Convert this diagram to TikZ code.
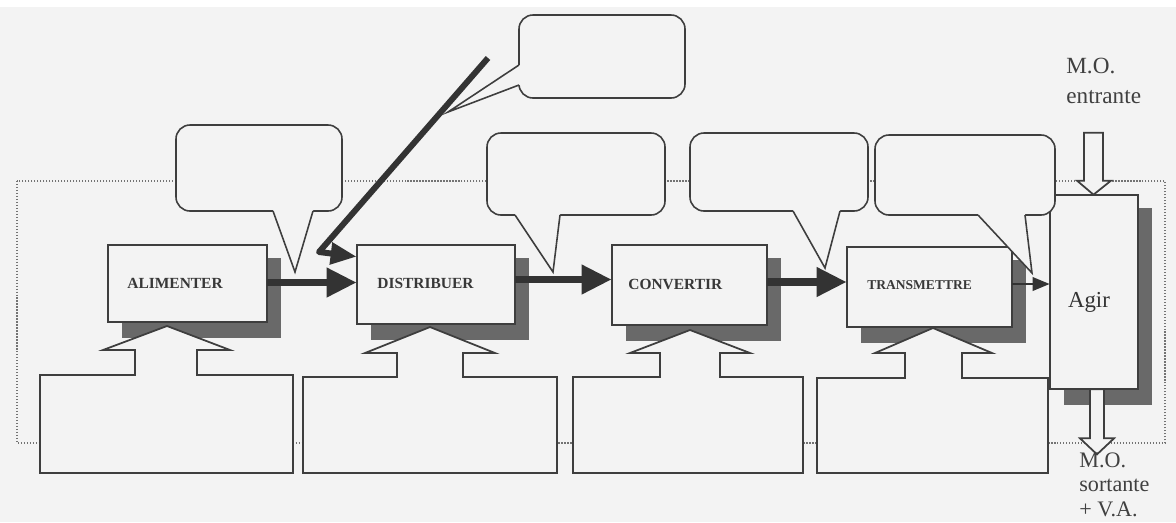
\documentclass[tikz,border=0pt]{standalone}
\usepackage{fontspec}
\setmainfont{Liberation Serif}
\usetikzlibrary{arrows.meta,calc,fit}
\definecolor{bg}{RGB}{243,243,243}
\definecolor{ink}{RGB}{62,62,62}
\definecolor{shade}{RGB}{105,105,105}
\begin{document}
\begin{tikzpicture}[x=0.02cm,y=-0.02cm,
  box/.style={draw=ink,line width=1pt,fill=bg,inner sep=0pt},
  shadowfill/.style={fill=shade},
  callout/.style={draw=ink,line width=0.9pt,fill=bg,rounded corners=0.28cm,inner sep=0pt},
  pointer/.style={draw=ink,line width=0.9pt,line join=miter},
  res/.style={draw=ink,line width=1pt,fill=bg,line join=miter},
  framestyle/.style={draw=black!55,line width=0.7pt,densely dotted},
  flow/.style={draw=black!80,line width=4pt,-{Triangle[length=0.6cm,width=0.56cm]}},
  thinflow/.style={draw=black!80,line width=1.2pt,-{Triangle[length=0.34cm,width=0.27cm]}},
  hollow/.style={draw=ink,line width=1pt,fill=bg,line join=miter},
  lbl/.style={font=\bfseries\fontsize{8.8}{10}\selectfont,text=black!78,inner sep=0pt,anchor=base west},
  side/.style={text=black!75,inner sep=0pt,anchor=north west,align=left}
]
\useasboundingbox (0,0) rectangle (1176,522);
\fill[bg] (0,0) rectangle (1176,522);
\fill[white] (0,0) rectangle (1176,7);

% dotted frame
\draw[framestyle] (17,181) rectangle (1165,443);

% boxes (positions only, drawn later)
\path node[fit={(108,245) (267,322)},inner sep=0pt] (alim) {}
      node[fit={(357,245) (515,324)},inner sep=0pt] (dist) {}
      node[fit={(612,245) (767,325)},inner sep=0pt] (conv) {}
      node[fit={(847,247) (1012,327)},inner sep=0pt] (trans) {}
      node[fit={(1050,195) (1138,389)},inner sep=0pt] (agir) {};

% shadows
\foreach \b in {alim,dist,conv,trans,agir}{
  \fill[shadowfill] ($(\b.south west)+(14,16)$) rectangle ($(\b.north east)+(14,13)$);
}

% resource shapes
\draw[res] (40,375) -- (135,375) -- (135,350) -- (103,350) -- (167,326) -- (230,350) -- (197,350) -- (197,375) -- (293,375) -- (293,473) -- (40,473) -- cycle;
\draw[res] (303,377) -- (397,377) -- (397,353) -- (365,353) -- (430,327) -- (495,353) -- (463,353) -- (463,377) -- (557,377) -- (557,473) -- (303,473) -- cycle;
\draw[res] (573,377) -- (660,377) -- (660,353) -- (630,353) -- (690,330) -- (750,353) -- (720,353) -- (720,377) -- (803,377) -- (803,473) -- (573,473) -- cycle;
\draw[res] (817,378) -- (905,378) -- (905,353) -- (875,353) -- (933,328) -- (992,353) -- (962,353) -- (962,378) -- (1048,378) -- (1048,473) -- (817,473) -- cycle;

% boxes
\foreach \b in {alim,dist,conv,trans,agir}{
  \draw[box] (\b.south west) rectangle (\b.north east);
}

% labels
\node[lbl] (talim) at (127,288) {ALIMENTER};
\node[lbl] (tdist) at (377,288) {DISTRIBUER};
\node[lbl] (tconv) at (628,289) {CONVERTIR};
\node[lbl,font=\bfseries\fontsize{7.7}{9}\selectfont] (ttrans) at (867,289) {TRANSMETTRE};
\node[text=black!80,inner sep=0pt,anchor=base,font=\fontsize{13}{15}\selectfont] (tagir) at (1089,307) {Agir};

% flow arrows
\draw[flow] ($(alim.east)+(0,-1)$) -- ($(alim.east -| dist.west)+(0,-1)$);
\draw[flow] ($(dist.east)+(0,-5)$) -- ($(dist.east -| conv.west)+(0,-5)$);
\draw[flow] ($(conv.east)+(0,-3)$) -- ($(conv.east -| trans.west)+(0,-3)$);
\draw[thinflow] ($(trans.east)+(0,-3)$) -- ($(trans.east -| agir.west)+(0,-3)$);

% diagonal input
\coordinate (src) at (488,58);
\coordinate (bend) at (319,252);
\draw[draw=black!80,line width=3.4pt,line join=round,-{Triangle[length=0.52cm,width=0.42cm]}]
  (src) -- (bend) -- ($(dist.north west)+(0,12)$);

% callouts
\node[callout,fit={(176,125) (342,211)}] (c1) {};
\fill[bg] (273,205) -- (273,211) -- (295,272) -- (313,211) -- (313,205) -- cycle;
\draw[pointer] (273,211) -- (295,272) -- (313,211);

\node[callout,fit={(519,15) (685,98)}] (c2) {};
\fill[bg] (525,65) -- (519,65) -- (448,112) -- (519,85) -- (525,85) -- cycle;
\draw[pointer] (519,65) -- (448,112) -- (519,85);

\node[callout,fit={(487,133) (665,215)}] (c3) {};
\fill[bg] (515,209) -- (515,215) -- (553,272) -- (560,215) -- (560,209) -- cycle;
\draw[pointer] (515,215) -- (553,272) -- (560,215);

\node[callout,fit={(690,133) (868,211)}] (c4) {};
\fill[bg] (793,205) -- (793,211) -- (825,268) -- (840,211) -- (840,205) -- cycle;
\draw[pointer] (793,211) -- (825,268) -- (840,211);

\node[callout,fit={(875,135) (1055,215)}] (c5) {};
\fill[bg] (978,209) -- (978,215) -- (1032,273) -- (1025,215) -- (1025,209) -- cycle;
\draw[pointer] (978,215) -- (1032,273) -- (1025,215);

% hollow arrows in / out of Agir
\draw[hollow] ($(agir.north)+(-10,-62)$) -- ($(agir.north)+(9,-62)$) -- ($(agir.north)+(9,-14)$)
  -- ($(agir.north)+(17,-14)$) -- ($(agir.north)+(-0.5,0)$) -- ($(agir.north)+(-17,-14)$)
  -- ($(agir.north)+(-10,-14)$) -- cycle;
\draw[hollow] ($(agir.south)+(-4,0)$) -- ($(agir.south)+(10,0)$) -- ($(agir.south)+(10,49)$)
  -- ($(agir.south)+(20,49)$) -- ($(agir.south)+(3,65)$) -- ($(agir.south)+(-14,49)$)
  -- ($(agir.south)+(-4,49)$) -- cycle;

\node[side,font=\fontsize{13.2}{17}\selectfont] (moin) at (1066,58) {M.O.\\entrante};
\node[side,font=\fontsize{12.6}{14}\selectfont] (moout) at (1079,452) {M.O.\\sortante\\+ V.A.};
\end{tikzpicture}
\end{document}
